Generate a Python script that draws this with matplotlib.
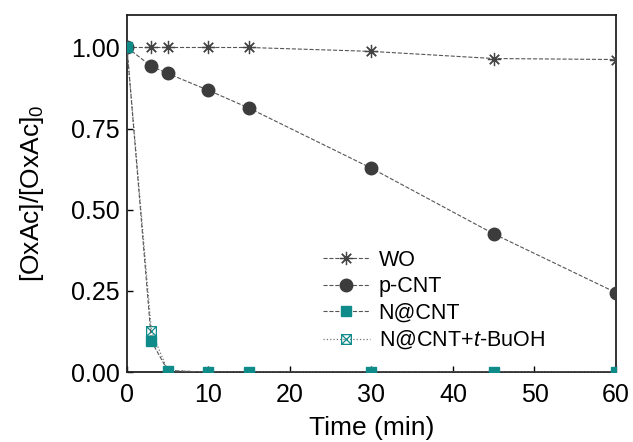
import matplotlib
matplotlib.use('Agg')
import matplotlib.pyplot as plt
from matplotlib.path import Path

plt.rcParams['font.family'] = ['Liberation Sans', 'DejaVu Sans']
plt.rcParams['mathtext.fontset'] = 'custom'
plt.rcParams['mathtext.rm'] = 'Liberation Sans'
plt.rcParams['mathtext.it'] = 'Liberation Sans:italic'

# datos
tiempo = [0, 3, 5, 10, 15, 30, 45, 60]
wo = [1.0, 1.0, 1.0, 1.0, 1.0, 0.988, 0.966, 0.963]
p_cnt = [1.0, 0.942, 0.920, 0.868, 0.813, 0.628, 0.426, 0.245]
n_cnt = [1.0, 0.095, 0.005, 0.0, 0.0, 0.0, 0.0, 0.0]
n_cnt_buoh = [1.0, 0.126, 0.005, 0.0, 0.0, 0.0, 0.0, 0.0]

teal = "#0f8c8a"
gris = "#3c3c3c"

# cuadro con X (N@CNT + t-BuOH)
verts = [(-1, -1), (1, -1), (1, 1), (-1, 1), (-1, -1),
         (-1, -1), (1, 1), (-1, 1), (1, -1)]
codes = [Path.MOVETO, Path.LINETO, Path.LINETO, Path.LINETO, Path.CLOSEPOLY,
         Path.MOVETO, Path.LINETO, Path.MOVETO, Path.LINETO]
cuadro_x = Path(verts, codes)

fig = plt.figure(figsize=(6.33, 4.42), dpi=100)
ax = fig.add_axes([0.2006, 0.158, 0.7725, 0.808])

ax.plot(tiempo, wo, ls='--', lw=0.8, color='#555555', marker=(8, 2, 0),
        ms=9.5, mec='#444444', mew=0.9, label='WO', zorder=3)
ax.plot(tiempo, p_cnt, ls='--', lw=0.8, color='#555555', marker='o',
        ms=9, mfc=gris, mec=gris, label='p-CNT', zorder=3)
ax.plot(tiempo, n_cnt_buoh, ls=':', lw=0.9, color='#777777', marker=cuadro_x,
        ms=7, mfc='none', mec=teal, mew=0.9, label='N@CNT+$t$-BuOH', zorder=4)
ax.plot(tiempo, n_cnt, ls='--', lw=0.8, color='#555555', marker='s',
        ms=7, mfc=teal, mec=teal, label='N@CNT', zorder=5)

ax.set_xlim(0, 60)
ax.set_ylim(0, 1.1)
ax.set_xticks([0, 10, 20, 30, 40, 50, 60])
ax.set_yticks([0, 0.25, 0.5, 0.75, 1.0])
ax.set_yticklabels(['0.00', '0.25', '0.50', '0.75', '1.00'])
ax.tick_params(direction='in', labelsize=18, length=4, width=1, pad=5,
               top=False, right=False)
ax.tick_params(axis='x', pad=8)
for s in ax.spines.values():
    s.set_linewidth(1.3)
    s.set_color('#222222')

ax.set_xlabel('Time (min)', fontsize=19, labelpad=6)
ax.set_ylabel('[OxAc]/[OxAc]$_0$', fontsize=19, labelpad=18)

# leyenda en el orden original
h, l = ax.get_legend_handles_labels()
orden = [0, 1, 3, 2]
ax.legend([h[i] for i in orden], [l[i] for i in orden],
          loc='upper left', bbox_to_anchor=(0.40, 0.343), frameon=False,
          fontsize=15.5, handlelength=2.2, labelspacing=0.25,
          handletextpad=0.4, borderpad=0, borderaxespad=0)

fig.savefig('out.png', dpi=100)
